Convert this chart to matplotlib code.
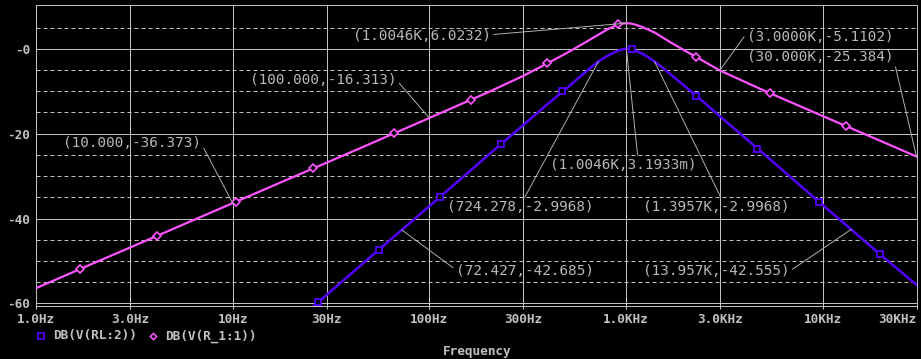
import matplotlib
matplotlib.use("Agg")
import matplotlib.pyplot as plt
import matplotlib.lines as mlines

# trace DB(V(R_1:1)) - magenta
mag_freq = [1, 2, 3, 5, 10, 20, 30, 50, 100, 200, 300, 400, 500, 600, 700,
            800, 900, 950, 1004.6, 1050, 1100, 1200, 1400, 1672, 2000, 2266,
            3000, 5000, 10000, 20000, 30000]
mag_db = [-56.4, -50.35, -46.85, -42.4, -36.373, -30.35, -26.85, -22.4,
          -16.313, -10.2, -6.4, -3.4, -1.0, 1.1, 2.9, 4.5, 5.6, 5.9, 6.0232,
          5.95, 5.75, 5.2, 3.8, 1.6, -0.5, -1.9, -5.1102, -9.8, -15.85,
          -21.85, -25.384]
mag_mark_f = [1.674, 4.12, 10.39, 25.6, 66.1, 162.7, 396, 910, 2266, 5393, 13120]
mag_mark_db = [-51.9, -44.1, -36.05, -28.2, -19.9, -12.0, -3.4, 5.8, -2.0, -10.5, -18.2]

# trace DB(V(RL:2)) - blue
blue_freq = [25.6, 30, 40, 50, 72.427, 100, 150, 200, 300, 400, 500, 600, 655,
             724.278, 800, 900, 960, 1004.6, 1050, 1100, 1200, 1300, 1395.7,
             1500, 1700, 2000, 2500, 3000, 5000, 10000, 13957, 20000, 30000]
blue_db = [-60.8, -58.0, -53.0, -49.1, -42.685, -37.1, -30.0, -25.0, -18.0,
           -13.0, -9.3, -6.1, -4.6, -2.9968, -1.75, -0.55, -0.12, 0.0032,
           -0.1, -0.35, -1.1, -2.0, -2.9968, -4.1, -6.2, -8.9, -12.7, -15.9,
           -24.7, -36.8, -42.555, -48.8, -55.6]
blue_mark_f = [27.2, 55.4, 113.2, 231, 472, 1072, 2266, 4632, 9570, 19530]
blue_mark_db = [-59.7, -47.3, -34.9, -22.5, -9.9, -0.1, -11.1, -23.5, -36.0, -48.3]

# cursor labels
lab_text = ["(10.000,-36.373)", "(100.000,-16.313)", "(1.0046K,6.0232)",
            "(1.0046K,3.1933m)", "(3.0000K,-5.1102)", "(30.000K,-25.384)",
            "(724.278,-2.9968)", "(1.3957K,-2.9968)", "(72.427,-42.685)",
            "(13.957K,-42.555)"]
lab_f = [10, 100, 1004.6, 1004.6, 3000, 30000, 724.278, 1395.7, 72.427, 13957]
lab_db = [-36.373, -16.313, 6.0232, 0.0031933, -5.1102, -25.384, -2.9968,
          -2.9968, -42.685, -42.555]
# where the label text sits (left edge, middle)
lab_pos = [(1.372, -22.2), (12.24, -7.38), (40.9, 2.98), (410.3, -27.4),
           (4119, 2.75), (4119, -1.96), (122.9, -37.3), (1219, -37.3),
           (136.5, -52.4), (1219, -52.4)]
lab_rel = [(1, 0.5), (1, 0.5), (1, 0.6), (0.6, 1), (0, 0.8), (1, 0.4),
           (0.52, 1), (0.54, 1), (0, 0.6), (1, 0.5)]

xticks = [1, 3, 10, 30, 100, 300, 1000, 3000, 10000, 30000]
xlabels = ["1.0Hz", "3.0Hz", "10Hz", "30Hz", "100Hz", "300Hz", "1.0KHz",
           "3.0KHz", "10KHz", "30KHz"]
yticks = [0, -20, -40, -60]
ylabels = ["-0", "-20", "-40", "-60"]

gray = "#c0c0c0"
mono = "DejaVu Sans Mono"
magenta = "#ff55ff"
blue = "#5500ff"

W, H = 921, 359
fig = plt.figure(figsize=(W / 100, H / 100), dpi=100, facecolor="black")
ax = fig.add_axes([36 / W, 1 - 305.6 / H, (916.5 - 36) / W, (305.6 - 5) / H])
ax.set_facecolor("black")
ax.set_xscale("log")
ax.set_xlim(1, 30000)
ax.set_ylim(-60.5, 10.3)

ax.set_xticks(xticks)
ax.set_xticklabels(xlabels)
ax.xaxis.set_minor_locator(matplotlib.ticker.NullLocator())
ax.set_yticks(yticks)
ax.set_yticklabels(ylabels)
ax.set_yticks([v for v in range(-55, 10, 5) if v % 20 != 0], minor=True)

for lab in ax.get_xticklabels() + ax.get_yticklabels():
    lab.set_fontfamily(mono)
    lab.set_fontweight("bold")
    lab.set_fontsize(9.2)
    lab.set_color(gray)
ax.get_xticklabels()[-1].set_horizontalalignment("right")

ax.tick_params(axis="x", which="major", length=2.5, width=0.72, color=gray, pad=3)
ax.tick_params(axis="y", which="both", length=0, pad=4.3)
ax.grid(axis="x", which="major", color=gray, lw=0.72, ls="-")
ax.grid(axis="y", which="major", color=gray, lw=0.72, ls="-")
ax.grid(axis="y", which="minor", color=gray, lw=0.72, ls=(0, (4, 3)))
ax.set_axisbelow(True)
for sp in ax.spines.values():
    sp.set_color(gray)
    sp.set_linewidth(0.72)

ax.plot(mag_freq, mag_db, color=magenta, lw=1.6, zorder=3)
ax.plot(mag_mark_f, mag_mark_db, ls="none", marker="D", ms=3.6, mew=1.2,
        mec=magenta, mfc="black", zorder=4)
ax.plot(blue_freq, blue_db, color=blue, lw=1.8, zorder=3)
ax.plot(blue_mark_f, blue_mark_db, ls="none", marker="s", ms=4.6, mew=1.3,
        mec=blue, mfc="black", zorder=4, clip_on=False)

for t, f, d, p, r in zip(lab_text, lab_f, lab_db, lab_pos, lab_rel):
    ax.annotate(t, xy=(f, d), xytext=p, textcoords="data", ha="left",
                va="center", fontfamily=mono, fontsize=10.4, color="#b8b8b8",
                annotation_clip=False, zorder=5,
                arrowprops=dict(arrowstyle="-", color="#b0b0b0", lw=0.7,
                                shrinkA=0, shrinkB=0, relpos=r))

# legend below the axis
ly = 1 - 336 / H
fig.add_artist(mlines.Line2D([41 / W], [ly], marker="s", ms=4, mew=1.2,
                             mec=blue, mfc="black", transform=fig.transFigure))
fig.text(53 / W, ly, "DB(V(RL:2))", ha="left", va="center", fontfamily=mono,
         fontweight="bold", fontsize=9.2, color=gray)
fig.add_artist(mlines.Line2D([153 / W], [ly], marker="D", ms=3.2, mew=1.1,
                             mec=magenta, mfc="black", transform=fig.transFigure))
fig.text(165 / W, ly, "DB(V(R_1:1))", ha="left", va="center", fontfamily=mono,
         fontweight="bold", fontsize=9.2, color=gray)
fig.text(477 / W, 1 - 351 / H, "Frequency", ha="center", va="center",
         fontfamily=mono, fontweight="bold", fontsize=9.2, color=gray)

fig.savefig("out.png", dpi=100, facecolor="black")
